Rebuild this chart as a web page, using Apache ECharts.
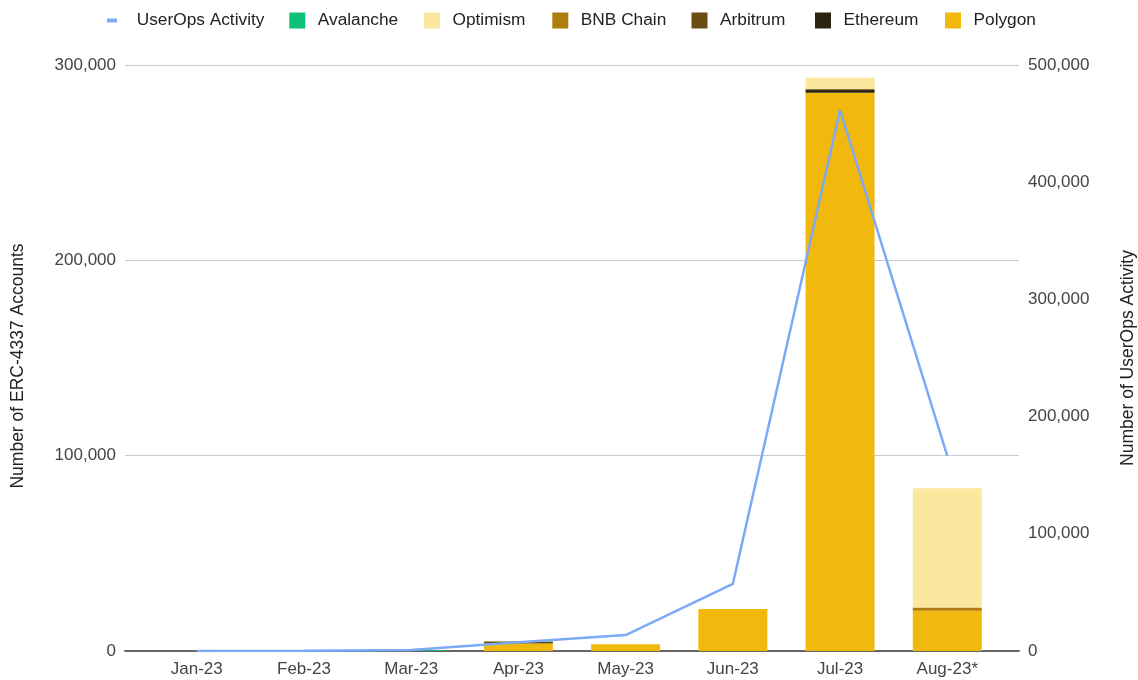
<!DOCTYPE html>
<html>
<head>
<meta charset="utf-8">
<script src="https://cdn.jsdelivr.net/npm/echarts@6/dist/echarts.min.js"></script>
<style>html,body{margin:0;padding:0;background:#fff}#c{width:1138px;height:680px}</style>
</head>
<body>
<div id="c"></div>
<script>
const categories = ['Jan-23','Feb-23','Mar-23','Apr-23','May-23','Jun-23','Jul-23','Aug-23*'];
const polygon   = [0, 0, 0, 3800, 3400, 21500, 285800, 20600];
const ethereum  = [0, 0, 0, 0, 0, 0, 1400, 0];
const arbitrum  = [0, 0, 0, 1100, 0, 0, 400, 0];
const bnbChain  = [0, 0, 0, 0, 0, 0, 300, 1700];
const optimism  = [0, 0, 0, 0, 0, 0, 5600, 61000];
const avalanche = [0, 0, 400, 0, 0, 0, 0, 0];
const userOps   = [100, 300, 850, 7400, 13600, 57200, 461600, 166400];
const legendNames = ['UserOps Activity', 'Avalanche', 'Optimism', 'BNB Chain', 'Arbitrum', 'Ethereum', 'Polygon'];

const FONT = '"Liberation Sans", Arial, sans-serif';
const fmt = v => v.toLocaleString('en-US');
const chart = echarts.init(document.getElementById('c'), null, {renderer: 'canvas'});

const barSeries = (name, data, color) => ({
  name, type: 'bar', stack: 'acc', data, xAxisIndex: 1, yAxisIndex: 2,
  barWidth: 69, itemStyle: {color}, emphasis: {disabled: true}
});

// legend item left positions (layout only)
const legendLeft = [102, 284.3, 419, 547.3, 686.5, 810, 940];
const legends = legendNames.map((n, i) => ({
  top: 7, left: legendLeft[i],
  itemWidth: i === 0 ? 10 : 16, itemHeight: i === 0 ? 4 : 16, selectedMode: false,
  textStyle: {fontSize: 17.3, color: '#222', fontFamily: FONT, padding: [0, 0, 0, i === 0 ? 14.7 : 7.5]},
  data: [{name: n, icon: 'rect'}]
}));

chart.setOption({
  animation: false,
  textStyle: {fontFamily: FONT},
  legend: legends,
  grid: [
    {left: 125, right: 119, top: 65, bottom: 29, outerBoundsMode: 'none', containLabel: false},
    {left: 143.1, right: 137.1, top: 65, bottom: 29, outerBoundsMode: 'none', containLabel: false}
  ],
  xAxis: [
    {gridIndex: 0, type: 'value', min: 0, max: 1, axisLabel: {show: false}, axisTick: {show: false},
     splitLine: {show: false}, axisLine: {show: true, onZero: false, lineStyle: {color: '#666', width: 2}}},
    {gridIndex: 1, type: 'category', data: categories, axisLine: {show: false}, axisTick: {show: false},
     axisLabel: {fontSize: 17, color: '#444', margin: 10, fontFamily: FONT}}
  ],
  yAxis: [
    {gridIndex: 0, type: 'value', min: 0, max: 300000, interval: 100000, position: 'left',
     name: 'Number of ERC-4337 Accounts', nameLocation: 'middle', nameGap: 98, nameRotate: 90,
     nameTextStyle: {fontSize: 17.5, color: '#222', fontFamily: FONT, padding: [0, 16, 0, 0]},
     axisLine: {show: false}, axisTick: {show: false},
     axisLabel: {fontSize: 17, color: '#444', margin: 9, formatter: v => fmt(v), fontFamily: FONT},
     splitLine: {show: true, lineStyle: {color: '#cccccc', width: 1}}},
    {gridIndex: 0, type: 'value', min: 0, max: 500000, interval: 100000, position: 'right',
     name: 'Number of UserOps Activity', nameLocation: 'middle', nameGap: 100, nameRotate: 90,
     nameTextStyle: {fontSize: 17.5, color: '#222', fontFamily: FONT},
     axisLine: {show: false}, axisTick: {show: false},
     axisLabel: {fontSize: 17, color: '#444', margin: 9, formatter: v => fmt(v), fontFamily: FONT},
     splitLine: {show: false}},
    {gridIndex: 1, type: 'value', min: 0, max: 300000, show: false},
    {gridIndex: 1, type: 'value', min: 0, max: 500000, show: false}
  ],
  series: [
    barSeries('Polygon', polygon, '#F1B80E'),
    barSeries('Ethereum', ethereum, '#2B2412'),
    barSeries('Arbitrum', arbitrum, '#6B4C12'),
    barSeries('BNB Chain', bnbChain, '#B07C0C'),
    barSeries('Optimism', optimism, '#FBE79E'),
    barSeries('Avalanche', avalanche, '#0EBF77'),
    {name: 'UserOps Activity', type: 'line', data: userOps, xAxisIndex: 1, yAxisIndex: 3,
     showSymbol: false, symbol: 'none', z: 5, itemStyle: {color: '#7BAAF7'},
     lineStyle: {color: '#7BAAF7', width: 2.5}, emphasis: {disabled: true}}
  ]
});
</script>
</body>
</html>
